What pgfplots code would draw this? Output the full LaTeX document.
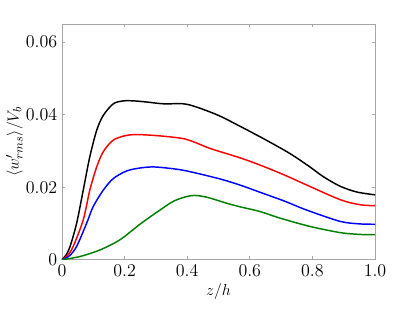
\documentclass[border=0pt]{standalone}
\usepackage{pgfplots}
\pgfplotsset{compat=1.18}
\definecolor{mgreen}{RGB}{0,128,0}
\begin{document}
\begin{tikzpicture}
\useasboundingbox (-46.5pt,-39pt) rectangle (265pt,195pt);
\begin{axis}[
  at={(0,0)}, anchor=south west,
  scale only axis, width=235pt, height=177pt,
  xmin=0, xmax=1, ymin=0, ymax=0.065,
  scaled y ticks=false, scaled x ticks=false,
  xtick={0,0.2,0.4,0.6,0.8,1.0},
  xticklabels={0,0.2,0.4,0.6,0.8,1.0},
  ytick={0,0.02,0.04,0.06},
  yticklabels={0,0.02,0.04,0.06},
  tick align=inside, major tick length=2.5pt,
  axis line style={gray!70, line width=0.6pt},
  every tick/.style={gray!70, line width=0.5pt},
  tick label style={font=\fontsize{13.5}{16}\selectfont},
  label style={font=\fontsize{13}{16}\selectfont},
  xlabel={$z/h$}, ylabel={$\langle w'_{rms}\rangle/V_b$},
  xlabel style={yshift=2pt},
  ylabel style={at={(axis description cs:-0.152,0.5)}, anchor=center},
  every axis plot/.append style={line width=1.1pt, smooth},
]
\addplot[black] coordinates {(0,0) (0.013,0.0013) (0.026,0.0037) (0.047,0.0101) (0.068,0.0192) (0.089,0.0284) (0.111,0.0357) (0.132,0.0398) (0.164,0.0430) (0.196,0.0438) (0.23,0.0438) (0.27,0.0435) (0.324,0.0430) (0.388,0.0430) (0.43,0.0421) (0.5,0.0398) (0.569,0.0368) (0.65,0.0331) (0.728,0.0293) (0.792,0.0256) (0.835,0.0229) (0.888,0.0203) (0.941,0.0187) (1.0,0.0179)};
\addplot[red] coordinates {(0,0) (0.018,0.0012) (0.036,0.0037) (0.068,0.011) (0.089,0.0192) (0.111,0.0256) (0.132,0.0298) (0.164,0.033) (0.207,0.0343) (0.249,0.0345) (0.32,0.0341) (0.388,0.0334) (0.43,0.0322) (0.473,0.0307) (0.569,0.0281) (0.633,0.0261) (0.71,0.0234) (0.782,0.0206) (0.888,0.0166) (0.95,0.0152) (1.0,0.0149)};
\addplot[blue] coordinates {(0,0) (0.024,0.0011) (0.047,0.0037) (0.079,0.0101) (0.10,0.0147) (0.132,0.0192) (0.164,0.0224) (0.207,0.0245) (0.249,0.0253) (0.292,0.0256) (0.345,0.0252) (0.398,0.0245) (0.5,0.0224) (0.569,0.0206) (0.633,0.0186) (0.71,0.0162) (0.782,0.0137) (0.888,0.0106) (0.95,0.0099) (1.0,0.0098)};
\addplot[mgreen] coordinates {(0,0) (0.0575,0.0009) (0.121,0.0027) (0.185,0.0055) (0.249,0.0098) (0.313,0.0137) (0.36,0.0163) (0.414,0.0177) (0.46,0.0173) (0.526,0.0156) (0.569,0.0146) (0.633,0.0133) (0.696,0.0115) (0.792,0.0092) (0.888,0.0075) (0.95,0.0070) (1.0,0.0069)};
\end{axis}
\end{tikzpicture}
\end{document}
